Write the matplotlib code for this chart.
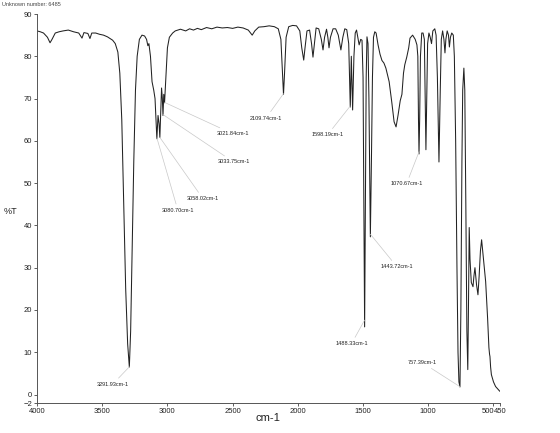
import matplotlib
matplotlib.use("Agg")
import matplotlib.pyplot as plt
import matplotlib.transforms as mtransforms
import numpy as np

plt.rcParams['font.family'] = ['Liberation Sans', 'DejaVu Sans']

# spectrum (wavenumber cm-1, %T)
wavenumber = [
    4000, 3975, 3950, 3920, 3900, 3885, 3860, 3830, 3800, 3760, 3720, 3680,
    3655, 3640, 3610, 3594, 3580, 3550, 3520, 3490, 3460, 3440, 3420, 3400,
    3380, 3365, 3350, 3335, 3320, 3305, 3292, 3282, 3270, 3258, 3245, 3232,
    3215, 3195, 3175, 3160, 3150, 3142, 3130, 3118, 3105, 3095, 3088, 3081,
    3072, 3064, 3058, 3050, 3045, 3039, 3034, 3028, 3022, 3010, 3000, 2985,
    2960, 2940, 2900, 2860, 2830, 2800, 2770, 2740, 2700, 2660, 2620, 2580,
    2540, 2500, 2460, 2420, 2380, 2350, 2330, 2300, 2260, 2220, 2180, 2150,
    2130, 2118, 2110, 2102, 2090, 2070, 2040, 2010, 1985, 1970, 1955, 1945,
    1930, 1910, 1895, 1884, 1873, 1860, 1840, 1820, 1807, 1795, 1780, 1770,
    1761, 1750, 1730, 1710, 1690, 1670, 1655, 1640, 1625, 1610, 1598, 1590,
    1580, 1570, 1560, 1550, 1540, 1530, 1518, 1508, 1500, 1494, 1488, 1482,
    1476, 1470, 1462, 1455, 1444, 1436, 1428, 1420, 1410, 1400, 1385, 1370,
    1355, 1340, 1325, 1300, 1280, 1262, 1247, 1232, 1215, 1202, 1190, 1180,
    1165, 1150, 1140, 1120, 1100, 1087, 1080, 1075, 1071, 1066, 1060, 1050,
    1040, 1030, 1024, 1018, 1012, 1005, 995, 985, 975, 965, 950, 940,
    930, 918, 908, 900, 890, 880, 872, 865, 855, 845, 838, 830,
    820, 808, 800, 790, 780, 772, 765, 757, 750, 742, 736, 727,
    720, 712, 704, 697, 692, 686, 680, 670, 657, 650, 642, 630,
    619, 610, 600, 591, 580, 560, 545, 535, 530, 527, 522, 516,
    500, 484, 470, 458, 452,
]
transmittance = [
    86.0, 85.8, 85.5, 84.5, 83.2, 84.0, 85.5, 85.8, 86.0, 86.2, 85.8, 85.5,
    84.3, 85.6, 85.4, 84.2, 85.5, 85.5, 85.2, 85.0, 84.6, 84.2, 83.8, 83.0,
    81.0, 76.0, 65.0, 45.0, 25.0, 12.0, 6.5, 15.0, 35.0, 55.0, 72.0, 80.0,
    84.0, 85.0, 84.8, 84.0, 82.5, 83.0, 80.0, 74.0, 72.0, 70.0, 65.0, 60.5,
    66.0, 64.0, 60.8, 68.0, 72.5, 70.0, 66.0, 71.0, 69.0, 76.0, 82.0, 84.5,
    85.5, 86.0, 86.4, 86.0, 86.5, 86.2, 86.6, 86.3, 86.8, 86.5, 86.9, 86.7,
    86.8, 86.6, 86.9, 86.7, 86.2, 85.0, 86.0, 86.9, 87.0, 87.2, 87.0, 86.5,
    84.0, 76.0, 71.0, 76.0, 84.5, 87.0, 87.3, 87.2, 86.0, 82.0, 79.1, 82.0,
    86.0, 86.2, 83.0, 79.8, 83.0, 86.7, 86.5, 84.0, 81.5, 84.5, 86.4, 84.5,
    82.0, 84.5, 86.5, 86.5, 85.0, 81.5, 84.5, 86.5, 86.3, 83.0, 68.0, 80.0,
    67.3, 80.0, 85.5, 86.2, 84.5, 82.7, 84.0, 83.8, 75.0, 45.0, 16.0, 45.0,
    75.0, 84.6, 83.0, 70.0, 37.3, 55.0, 75.0, 84.5, 85.8, 85.5, 82.7, 80.5,
    79.0, 78.4, 77.2, 74.0, 69.2, 64.5, 63.3, 66.0, 69.5, 71.0, 76.0, 78.0,
    79.8, 82.0, 84.3, 85.0, 84.0, 82.7, 80.0, 65.0, 56.9, 65.0, 80.0, 85.5,
    85.5, 84.0, 70.0, 57.9, 70.0, 83.0, 85.5, 84.5, 83.0, 86.0, 86.5, 85.0,
    75.0, 55.0, 72.0, 84.0, 86.0, 84.0, 80.8, 84.0, 86.0, 85.0, 82.2, 84.5,
    85.5, 85.0, 80.0, 60.0, 30.0, 10.0, 3.0, 1.8, 20.0, 55.0, 72.0, 77.2,
    72.0, 45.0, 15.0, 5.9, 20.0, 39.5, 32.0, 26.5, 25.5, 28.0, 30.0, 26.0,
    23.6, 28.0, 34.0, 36.6, 33.0, 26.7, 18.0, 11.1, 9.5, 9.0, 6.5, 4.7,
    3.0, 1.9, 1.4, 1.0, 0.8,
]

# peak labels and where their text sits
peak_labels = [3291.93, 3080.70, 3058.02, 3033.75, 3021.84, 2109.74,
               1598.19, 1488.33, 1443.72, 1070.67, 757.39]
label_x = [3421, 2919, 2727, 2493, 2501, 2244, 1773, 1589, 1240, 1167, 1048]
label_y = [2.4, 43.5, 46.3, 55.0, 61.7, 65.4, 61.4, 12.0, 30.2, 49.8, 7.6]

x_ticks = [4000, 3500, 3000, 2500, 2000, 1500, 1000, 500, 450]
y_ticks = [-2, 0, 10, 20, 30, 40, 50, 60, 70, 80, 90]

fig = plt.figure(figsize=(5.6, 4.33), dpi=100)
ax = fig.add_axes([37 / 560, 1 - 403 / 433, 463 / 560, 389 / 433])

ax.plot(wavenumber, transmittance, color='#222222', lw=0.75)

# interpolate the curve at each labelled peak
wn_asc = np.array(wavenumber)[::-1]
t_asc = np.array(transmittance)[::-1]
for pk, tx, ty in zip(peak_labels, label_x, label_y):
    pt = np.interp(pk, wn_asc, t_asc)
    ax.annotate(f"{pk:.2f}cm-1", xy=(pk, pt), xytext=(tx, ty),
                fontsize=4, color='#222222', ha='center', va='center',
                arrowprops=dict(arrowstyle='-', color='#c8c8c8', lw=0.5,
                                shrinkA=1, shrinkB=0))

ax.set_xlim(4000, 450)
ax.set_ylim(-2, 90)
ax.set_xticks(x_ticks)
ax.set_yticks(y_ticks)
ax.tick_params(labelsize=5.5, length=2.5, width=0.6, colors='#444444', pad=1)
for lab in ax.get_xticklabels() + ax.get_yticklabels():
    lab.set_color('#222222')

# 500 and 450 sit right next to each other, butt them together like the original
xlabs = ax.get_xticklabels()
xlabs[-2].set_horizontalalignment('right')
xlabs[-2].set_transform(xlabs[-2].get_transform() +
                        mtransforms.ScaledTranslation(1 / 100, 0, fig.dpi_scale_trans))
xlabs[-1].set_horizontalalignment('left')
xlabs[-1].set_transform(xlabs[-1].get_transform() +
                        mtransforms.ScaledTranslation(-6 / 100, 0, fig.dpi_scale_trans))

for s in ['top', 'right']:
    ax.spines[s].set_visible(False)
for s in ['left', 'bottom']:
    ax.spines[s].set_color('#555555')
    ax.spines[s].set_linewidth(0.7)

fig.text(268 / 560, 1 - 418 / 433, 'cm-1', fontsize=8, ha='center', va='center', color='#222222')
fig.text(10 / 560, 1 - 212 / 433, '%T', fontsize=6.5, ha='center', va='center', color='#222222')
fig.text(2 / 560, 1 - 4 / 433, 'Unknown number: 6485', fontsize=4, ha='left', va='center', color='#444444')

fig.savefig('out.png', dpi=100)
